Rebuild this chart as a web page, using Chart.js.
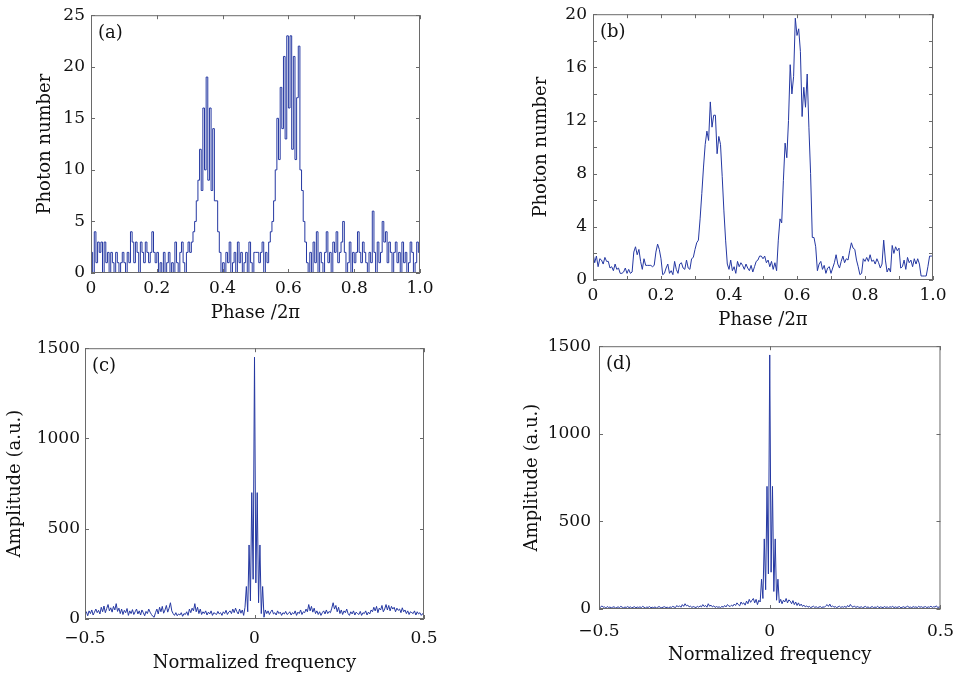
<!DOCTYPE html>
<html>
<head>
<meta charset="utf-8">
<script src="https://cdn.jsdelivr.net/npm/chart.js@4.4.0/dist/chart.umd.min.js"></script>
<style>
html, body { margin: 0; padding: 0; background: #fff; }
body { width: 955px; height: 676px; position: relative; overflow: hidden; }
canvas { position: absolute; }
</style>
</head>
<body>
<canvas id="pa"></canvas>
<canvas id="pb"></canvas>
<canvas id="pc"></canvas>
<canvas id="pd"></canvas>
<script>
// phase axis: bins of 0.005 from 0 to 1
const phaseStart = 0, phaseStep = 0.005;

// (a) raw photon counts
const countsA = [
  2,0,4,1,3,2,3,0,3,1,2,0,2,1,0,2,1,0,1,2,
  1,0,2,1,4,3,1,3,2,0,3,2,1,3,2,1,2,4,2,1,
  2,0,1,0,2,0,1,2,0,1,0,3,1,0,2,3,1,0,2,3,
  2,3,4,5,7,9,12,8,16,10,19,9,16,8,14,7,7,4,2,0,
  1,0,2,1,3,0,1,2,0,3,1,2,0,1,2,0,3,1,0,2,
  2,2,1,2,3,0,2,1,3,4,5,7,10,15,11,18,14,21,13,23,
  16,23,12,21,11,17,22,10,8,5,3,1,0,2,0,3,1,4,0,2,
  1,0,2,4,1,2,0,3,2,4,1,2,3,5,2,0,1,3,0,2,
  1,2,4,2,1,3,2,1,0,2,1,6,2,0,3,1,2,5,3,4,
  1,3,2,0,2,3,1,2,0,3,1,2,0,1,3,2,0,1,3,2,2
];

// (b) averaged photon counts
const countsB = [
  2.0,1.3,1.8,1.0,1.6,1.5,1.2,1.7,1.4,1.4,0.9,1.0,0.7,1.2,0.8,0.9,0.5,0.5,0.6,0.9,
  0.5,0.8,0.5,0.6,2.1,2.5,1.9,2.3,1.4,0.8,1.6,1.1,1.1,1.1,1.1,1.0,1.1,2.1,2.7,2.3,
  1.6,0.4,0.5,0.9,1.2,0.5,0.7,0.4,1.4,0.8,0.5,1.2,1.3,0.9,0.8,1.5,0.9,0.8,1.6,1.7,
  2.3,2.8,3.0,4.6,6.5,8.5,10.2,11.2,10.5,13.4,11.5,12.4,12.4,9.5,10.8,10.2,7.8,5.2,3.0,1.2,
  0.8,1.5,0.7,1.0,0.5,1.4,1.0,1.3,1.1,0.8,1.2,0.9,0.7,1.1,0.6,1.0,1.4,1.5,1.8,1.8,
  1.6,1.8,1.3,1.5,1.0,1.4,0.8,1.3,0.7,3.0,4.6,4.3,7.5,10.3,9.2,12.0,16.2,14.0,15.3,19.7,
  18.4,18.9,17.2,12.3,14.5,13.0,15.5,11.5,8.0,3.2,3.2,2.5,0.7,1.2,1.4,0.8,1.1,0.5,0.9,1.0,
  0.5,0.9,1.3,1.9,1.2,0.9,1.4,1.8,1.3,1.6,1.5,2.2,2.8,2.4,2.3,1.5,1.0,0.4,0.5,1.6,
  1.4,1.7,1.4,1.9,1.4,1.5,1.2,1.6,1.3,0.9,1.2,3.0,1.5,0.6,0.9,0.6,2.6,2.0,2.5,2.2,
  2.4,0.9,1.0,1.5,0.8,1.7,1.3,1.5,1.0,1.6,1.2,1.6,1.2,0.3,0.3,0.3,0.3,1.0,1.8,1.8,1.8
];

// frequency axis: bins of 0.004 from -0.5 to 0.5
const freqStart = -0.5, freqStep = 0.004;

// (c) spectrum of (a)
const ampC = [
  25,40,18,45,30,50,22,38,55,35, 48,28,65,40,72,35,58,80,45,62,
  38,70,50,85,42,60,30,55,25,48, 35,58,20,45,30,52,25,40,55,28,
  45,22,50,35,18,42,30,55,38,25, 15,10,35,55,28,65,40,70,32,50,
  75,38,60,90,45,30,20,35,18,28, 22,35,15,30,25,40,20,55,35,60,
  45,85,40,65,30,55,25,40,30,45, 22,38,28,45,20,35,30,25,42,28,
  35,20,40,30,48,25,38,45,30,55, 35,60,40,28,55,32,50,20,65,
  180,40,410,100,700,220,1450,200,700,90,410,30,180,
  10,50,30,45,25,40,50,28,35,22, 45,30,38,20,35,28,42,25,30,40,
  22,35,28,45,20,38,30,50,25,40, 35,55,40,80,45,70,38,60,30,45,
  25,40,20,35,45,28,50,30,42,35, 60,90,55,75,40,65,30,50,25,45,
  35,55,30,20,40,28,45,22,38,30, 25,42,20,35,30,45,22,38,28,50,
  40,65,45,70,35,60,50,75,40,55, 80,50,75,45,70,55,65,40,60,48,
  55,35,62,40,50,30,45,25,40,35, 30,45,22,40,28,35,20,30,18
];

// (d) spectrum of (b)
const ampD = [
  15,8,18,10,12,6,14,9,11,7, 10,13,6,9,12,8,15,10,7,11,
  9,14,8,12,6,10,13,7,11,9, 12,8,15,10,6,11,9,14,7,10,
  8,12,6,10,14,9,7,11,13,8, 10,6,12,9,15,11,8,20,12,18,
  10,25,15,30,18,22,12,16,9,14, 11,8,15,10,18,12,25,14,20,10,
  30,16,22,12,18,9,14,10,12,8, 15,10,20,12,25,18,14,22,16,28,
  20,35,25,18,40,28,35,22,45,30, 55,38,50,60,35,55,25,50,40,
  170,60,400,110,700,200,1450,210,700,100,400,50,170,
  35,55,30,50,40,60,35,52,45,30, 48,25,40,20,35,18,28,15,22,12,
  18,10,15,8,12,16,9,13,7,11, 14,8,12,10,18,25,15,28,12,18,
  10,14,8,12,16,9,13,10,15,8, 20,12,26,15,10,18,8,14,11,9,
  13,7,11,15,9,12,6,10,14,8, 11,9,16,7,12,10,8,14,9,12,
  7,13,10,15,8,12,9,11,14,6, 10,13,8,12,16,9,11,7,14,10,
  12,8,15,10,13,9,11,14,8,12, 10,16,9,13,11,18,8,12,10
];

// ticks and their labels
const phaseTicksA = [0, 0.2, 0.4, 0.6, 0.8, 1.0];
const phaseTextA = ['0', '0.2', '0.4', '0.6', '0.8', '1.0'];
const phaseTicksB = [0, 0.1, 0.2, 0.3, 0.4, 0.5, 0.6, 0.7, 0.8, 0.9, 1.0];
const phaseTextB = ['0', '', '0.2', '', '0.4', '', '0.6', '', '0.8', '', '1.0'];
const countTicksA = [0, 5, 10, 15, 20, 25];
const countTextA = ['0', '5', '10', '15', '20', '25'];
const countTicksB = [0, 2, 4, 6, 8, 10, 12, 14, 16, 18, 20];
const countTextB = ['0', '', '4', '', '8', '', '12', '', '16', '', '20'];
const freqTicks = [-0.5, 0, 0.5];
const freqText = ['\u22120.5', '0', '0.5'];
const ampTicks = [0, 500, 1000, 1500];
const ampText = ['0', '500', '1000', '1500'];

const FONT = 'DejaVu Serif';
const INK = '#111';
const LINE = '#2538a2';
const FRAME = '#6a6a6a';

const framePlugin = {
  id: 'frame',
  afterDraw(chart, args, opts) {
    const { ctx, chartArea: a, scales: { x, y } } = chart;
    const tl = 4;
    ctx.save();
    ctx.strokeStyle = FRAME;
    ctx.lineWidth = 1;
    ctx.strokeRect(a.left + 0.5, a.top + 0.5, a.right - a.left - 1, a.bottom - a.top - 1);
    ctx.beginPath();
    x.ticks.forEach(t => {
      const px = Math.round(x.getPixelForValue(t.value)) + 0.5;
      ctx.moveTo(px, a.bottom); ctx.lineTo(px, a.bottom - tl);
      ctx.moveTo(px, a.top); ctx.lineTo(px, a.top + tl);
    });
    y.ticks.forEach(t => {
      const py = Math.round(y.getPixelForValue(t.value)) + 0.5;
      ctx.moveTo(a.left, py); ctx.lineTo(a.left + tl, py);
      ctx.moveTo(a.right, py); ctx.lineTo(a.right - tl, py);
    });
    ctx.stroke();
    ctx.fillStyle = INK;
    ctx.font = '18px "' + FONT + '"';
    ctx.textBaseline = 'middle';
    ctx.textAlign = 'left';
    ctx.fillText(opts.tag, a.left + 7, a.top + 18);
    ctx.restore();
  }
};

function makePanel(id, p) {
  const padL = 95, padT = 15, padR = 25, padB = 70;
  const cv = document.getElementById(id);
  cv.width = p.R - p.L + padL + padR;
  cv.height = p.B - p.T + padT + padB;
  cv.style.left = (p.L - padL) + 'px';
  cv.style.top = (p.T - padT) + 'px';
  const pts = p.values.map((v, i) => ({ x: p.start + i * p.step, y: v }));
  new Chart(cv, {
    type: 'line',
    data: { datasets: [{ data: pts, borderColor: LINE, borderWidth: 1, pointRadius: 0, stepped: p.stepped, tension: 0 }] },
    options: {
      responsive: false,
      animation: false,
      layout: { padding: { left: 0, top: padT, right: padR, bottom: 0 } },
      plugins: { legend: { display: false }, tooltip: { enabled: false }, frame: { tag: p.tag } },
      scales: {
        x: {
          type: 'linear', min: p.xMin, max: p.xMax,
          afterBuildTicks: s => { s.ticks = p.xTicks.map(v => ({ value: v })); },
          afterFit: s => { s.height = padB; },
          ticks: { autoSkip: false, maxRotation: 0, padding: p.xPad, color: INK, font: { family: FONT, size: 17 },
            callback: (v, i) => p.xText[i] },
          grid: { display: false, drawTicks: false },
          border: { display: false },
          title: { display: true, text: p.xTitle, color: INK, font: { family: FONT, size: 18 }, padding: { top: 0, bottom: p.xTitlePad } }
        },
        y: {
          type: 'linear', min: p.yMin, max: p.yMax,
          afterBuildTicks: s => { s.ticks = p.yTicks.map(v => ({ value: v })); },
          afterFit: s => { s.width = padL; },
          ticks: { autoSkip: false, padding: p.yPad, color: INK, font: { family: FONT, size: 17 },
            callback: (v, i) => p.yText[i] },
          grid: { display: false, drawTicks: false },
          border: { display: false },
          title: { display: true, text: p.yTitle, color: INK, font: { family: FONT, size: 18 }, padding: { top: p.yTitlePad, bottom: 0 } }
        }
      }
    },
    plugins: [framePlugin]
  });
}

makePanel('pa', {
  L: 91, T: 14, R: 420, B: 273, tag: '(a)',
  values: countsA, start: phaseStart, step: phaseStep, stepped: true,
  xMin: 0, xMax: 1, xTicks: phaseTicksA, xText: phaseTextA, xPad: 5, xTitle: 'Phase /2\u03c0', xTitlePad: 19,
  yMin: 0, yMax: 25, yTicks: countTicksA, yText: countTextA, yPad: 6, yTitle: 'Photon number', yTitlePad: 39
});
makePanel('pb', {
  L: 593, T: 13, R: 933, B: 280, tag: '(b)',
  values: countsB, start: phaseStart, step: phaseStep, stepped: false,
  xMin: 0, xMax: 1, xTicks: phaseTicksB, xText: phaseTextB, xPad: 5, xTitle: 'Phase /2\u03c0', xTitlePad: 19,
  yMin: 0, yMax: 20, yTicks: countTicksB, yText: countTextB, yPad: 6, yTitle: 'Photon number', yTitlePad: 33
});
makePanel('pc', {
  L: 85, T: 348, R: 424, B: 619, tag: '(c)',
  values: ampC, start: freqStart, step: freqStep, stepped: false,
  xMin: -0.5, xMax: 0.5, xTicks: freqTicks, xText: freqText, xPad: 9, xTitle: 'Normalized frequency', xTitlePad: 15,
  yMin: 0, yMax: 1500, yTicks: ampTicks, yText: ampText, yPad: 5, yTitle: 'Amplitude (a.u.)', yTitlePad: 15
});
makePanel('pd', {
  L: 599, T: 343, R: 941, B: 609, tag: '(d)',
  values: ampD, start: freqStart, step: freqStep, stepped: false,
  xMin: -0.5, xMax: 0.5, xTicks: freqTicks, xText: freqText, xPad: 12, xTitle: 'Normalized frequency', xTitlePad: 13,
  yMin: 0, yMax: 1500, yTicks: ampTicks, yText: ampText, yPad: 8, yTitle: 'Amplitude (a.u.)', yTitlePad: 18
});
</script>
</body>
</html>
